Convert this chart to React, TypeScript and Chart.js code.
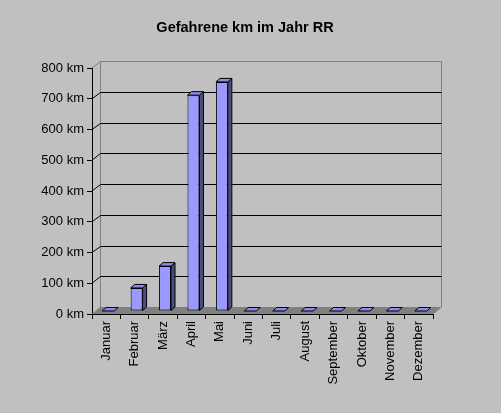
import React, { useEffect, useRef } from "react";
import { Chart, registerables } from "chart.js";

Chart.register(...registerables);

const months = [
  "Januar", "Februar", "März", "April", "Mai", "Juni",
  "Juli", "August", "September", "Oktober", "November", "Dezember",
];
const km = [0, 75, 146, 702, 745, 0, 0, 0, 0, 0, 0, 0];
const yTicks = [0, 100, 200, 300, 400, 500, 600, 700, 800];
const titleText = "Gefahrene km im Jahr RR";

const FONT = "'Liberation Sans', Arial, sans-serif";
const WX = 8; // wall depth x
const WY = 7; // wall depth y
const TX = 2; // bar front offset
const TY = -3;
const BX = 4; // bar depth
const BY = 3.5;

const threeD = {
  id: "threeD",
  beforeDatasetsDraw(chart: any) {
    const { ctx, chartArea: a, scales } = chart;
    const y = scales.y;
    ctx.save();
    ctx.fillStyle = "#808080";
    ctx.beginPath();
    ctx.moveTo(a.left, a.bottom);
    ctx.lineTo(a.right, a.bottom);
    ctx.lineTo(a.right + WX, a.bottom - WY);
    ctx.lineTo(a.left + WX, a.bottom - WY);
    ctx.closePath();
    ctx.fill();
    ctx.strokeStyle = "#808080";
    ctx.lineWidth = 1;
    const lx = Math.round(a.left + WX) + 0.5;
    const rx = Math.round(a.right + WX) + 0.5;
    const ty = Math.round(a.top - WY) + 0.5;
    const by = a.bottom - WY;
    ctx.beginPath();
    ctx.moveTo(lx, by);
    ctx.lineTo(lx, ty);
    ctx.lineTo(rx, ty);
    ctx.lineTo(rx, by);
    ctx.moveTo(a.left, a.top);
    ctx.lineTo(lx, ty);
    ctx.moveTo(a.right, a.bottom);
    ctx.lineTo(rx, by);
    ctx.stroke();
    ctx.strokeStyle = "#000";
    ctx.beginPath();
    yTicks.forEach((v) => {
      if (v === 0 || v === 800) return;
      const py = y.getPixelForValue(v);
      const gy = Math.round(py - WY) + 0.5;
      ctx.moveTo(lx, gy);
      ctx.lineTo(rx, gy);
      ctx.moveTo(a.left, py);
      ctx.lineTo(lx, gy);
    });
    ctx.stroke();
    ctx.restore();
    ctx.save();
    ctx.translate(TX, TY);
  },
  afterDatasetsDraw(chart: any) {
    const { ctx } = chart;
    const meta = chart.getDatasetMeta(0);
    ctx.lineWidth = 1;
    ctx.strokeStyle = "#000";
    meta.data.forEach((bar: any) => {
      const { x, y, base, width } = bar.getProps(["x", "y", "base", "width"], true);
      const l = x - width / 2;
      const r = x + width / 2;
      if (base - y > 0.5) {
        ctx.fillStyle = "#4d4d80";
        ctx.beginPath();
        ctx.moveTo(r, y);
        ctx.lineTo(r + BX, y - BY);
        ctx.lineTo(r + BX, base - BY);
        ctx.lineTo(r, base);
        ctx.closePath();
        ctx.fill();
        ctx.stroke();
      }
      ctx.fillStyle = "#8c8cea";
      ctx.beginPath();
      ctx.moveTo(l, y);
      ctx.lineTo(r, y);
      ctx.lineTo(r + BX, y - BY);
      ctx.lineTo(l + BX, y - BY);
      ctx.closePath();
      ctx.fill();
      ctx.stroke();
    });
    ctx.restore();
  },
  afterDraw(chart: any) {
    const { ctx } = chart;
    ctx.save();
    ctx.fillStyle = "#000";
    ctx.font = `bold 14.5px ${FONT}`;
    ctx.textAlign = "center";
    ctx.textBaseline = "middle";
    ctx.fillText(titleText, 245, 28);
    ctx.restore();
  },
};

export default function App() {
  const ref = useRef<HTMLCanvasElement>(null);
  useEffect(() => {
    document.body.style.margin = "0";
    const canvas = ref.current!;
    const chart = new Chart(canvas, {
      type: "bar",
      data: {
        labels: months,
        datasets: [
          {
            data: km,
            backgroundColor: "#9999ff",
            borderColor: "#000",
            borderWidth: 1,
            borderSkipped: false,
            categoryPercentage: 1,
            barPercentage: 0.42,
            clip: false,
          } as any,
        ],
      },
      options: {
        animation: false,
        responsive: false,
        maintainAspectRatio: false,
        layout: { padding: { left: 0, right: 68, top: 68, bottom: 0 } },
        plugins: { legend: { display: false }, title: { display: false }, tooltip: { enabled: false } },
        scales: {
          x: {
            afterFit: (s: any) => { s.height = 99; },
            grid: { drawOnChartArea: false, color: "#000", tickLength: 5, offset: true },
            border: { color: "#000", width: 1 },
            ticks: {
              minRotation: 90,
              maxRotation: 90,
              autoSkip: false,
              padding: 2,
              color: "#000",
              font: { family: FONT, size: 13 },
            },
          },
          y: {
            min: 0,
            max: 800,
            afterFit: (s: any) => { s.width = 92; },
            grid: { drawOnChartArea: false, color: "#000", tickLength: 5 },
            border: { color: "#000", width: 1 },
            ticks: {
              stepSize: 100,
              padding: 3,
              color: "#000",
              font: { family: FONT, size: 13 },
              callback: (v: any) => `${v} km`,
            },
          },
        },
      },
      plugins: [threeD],
    });
    return () => chart.destroy();
  }, []);
  return (
    <div style={{ width: 501, height: 413, background: "#c0c0c0" }}>
      <canvas ref={ref} width={501} height={413} style={{ display: "block" }} />
    </div>
  );
}
